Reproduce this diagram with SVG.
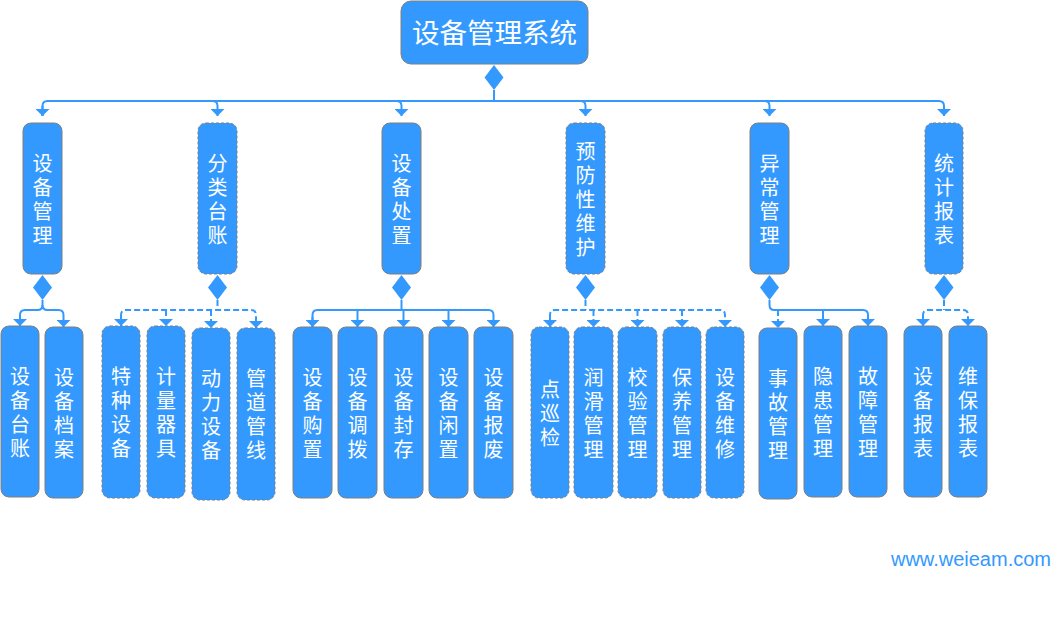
<svg xmlns="http://www.w3.org/2000/svg" width="1061" height="634" viewBox="0 0 1061 634">
<defs>
<marker id="arr" viewBox="0 0 7 14" markerWidth="7" markerHeight="14" refX="7" refY="7" orient="auto" markerUnits="userSpaceOnUse"><path d="M0,0 L7,7 L0,14 z" fill="#3399ff"/></marker>
</defs>
<style>
.n{fill:#3399ff;stroke:#7f7f7f;stroke-width:1}
.d{stroke-dasharray:3,2}
.t{fill:#fff;font-family:"Noto Sans CJK SC","Noto Sans",sans-serif;font-size:20px;text-anchor:middle;writing-mode:vertical-rl;letter-spacing:4px}
.r{fill:#fff;font-family:"Noto Sans CJK SC","Noto Sans",sans-serif;font-size:27.5px;text-anchor:middle}
.c{fill:none;stroke:#3399ff;stroke-width:2}
.cd{fill:none;stroke:#3399ff;stroke-width:2;stroke-dasharray:6,3}
.dm{fill:#3399ff}
</style>
<rect width="1061" height="634" fill="#fff"/>
<g id="connectors">
<path class="dm" d="M494,65 L503.5,77.5 L494,90 L484.5,77.5 z"/>
<path class="c" d="M494,90 V101"/>
<path class="c" d="M42.5,116 V106 Q42.5,101 47.5,101 H939 Q944,101 944,106 V116" marker-end="url(#arr)"/>
<path class="c" d="M42.5,106 V116" marker-end="url(#arr)"/>
<path class="c" d="M212.5,101 Q217.5,101 217.5,106 V116" marker-end="url(#arr)"/>
<path class="c" d="M396.5,101 Q401.5,101 401.5,106 V116" marker-end="url(#arr)"/>
<path class="c" d="M580.5,101 Q585.5,101 585.5,106 V116" marker-end="url(#arr)"/>
<path class="c" d="M764.5,101 Q769.5,101 769.5,106 V116" marker-end="url(#arr)"/>
<path class="dm" d="M42.5,275 L52,287.5 L42.5,300 L33,287.5 z"/>
<path class="dm" d="M217.5,275 L227,287.5 L217.5,300 L208,287.5 z"/>
<path class="dm" d="M401.5,275 L411,287.5 L401.5,300 L392,287.5 z"/>
<path class="dm" d="M585.5,275 L595,287.5 L585.5,300 L576,287.5 z"/>
<path class="dm" d="M769.5,275 L779,287.5 L769.5,300 L760,287.5 z"/>
<path class="dm" d="M944,275 L953.5,287.5 L944,300 L934.5,287.5 z"/>
<path class="c" d="M42.5,300 V305 Q42.5,310 37.5,310 H25 Q20,310 20,315 V326" marker-end="url(#arr)"/>
<path class="c" d="M42.5,305 Q42.5,310 47.5,310 H58.5 Q63.5,310 63.5,315 V327" marker-end="url(#arr)"/>
<path class="cd" d="M217.5,300 V310"/>
<path class="cd" d="M121,326 V315 Q121,310 126,310 H251 Q256,310 256,315 V328" marker-end="url(#arr)"/>
<path class="cd" d="M166,310 V326" marker-end="url(#arr)"/>
<path class="cd" d="M211,310 V328" marker-end="url(#arr)"/>
<path class="c" d="M121,316 V326" marker-end="url(#arr)"/>
<path class="c" d="M401.5,300 V310"/>
<path class="c" d="M312.5,327 V315 Q312.5,310 317.5,310 H488.5 Q493.5,310 493.5,315 V327" marker-end="url(#arr)"/>
<path class="c" d="M312.5,317 V327" marker-end="url(#arr)"/>
<path class="c" d="M357.5,310 V327" marker-end="url(#arr)"/>
<path class="c" d="M403.5,310 V327" marker-end="url(#arr)"/>
<path class="c" d="M448.5,310 V327" marker-end="url(#arr)"/>
<path class="cd" d="M585.5,300 V310"/>
<path class="cd" d="M550,327 V315 Q550,310 555,310 H720 Q725,310 725,315 V327" marker-end="url(#arr)"/>
<path class="c" d="M550,317 V327" marker-end="url(#arr)"/>
<path class="cd" d="M593.5,310 V327" marker-end="url(#arr)"/>
<path class="cd" d="M637.5,310 V327" marker-end="url(#arr)"/>
<path class="cd" d="M682,310 V327" marker-end="url(#arr)"/>
<path class="c" d="M769.5,300 V305 Q769.5,310 774.5,310 H863 Q868,310 868,315 V326" marker-end="url(#arr)"/>
<path class="c" d="M823,310 V326" marker-end="url(#arr)"/>
<path class="cd" d="M778,310 V328" marker-end="url(#arr)"/>
<path class="cd" d="M944,300 V310"/>
<path class="cd" d="M923,326 V315 Q923,310 928,310 H963 Q968,310 968,315 V326" marker-end="url(#arr)"/>
<path class="c" d="M923,316 V326" marker-end="url(#arr)"/>
</g>
<g id="root"><rect class="n" x="401" y="1" width="187" height="63" rx="10"/><text x="494.5" y="43" class="r">设备管理系统</text></g>
<g id="n1"><rect class="n" x="23" y="123" width="39" height="151" rx="8"/><text class="t" x="42.5" y="201">设备管理</text></g>
<g id="n2"><rect class="n d" x="198" y="123" width="39" height="151" rx="8"/><text class="t" x="217.5" y="201">分类台账</text></g>
<g id="n3"><rect class="n" x="382" y="123" width="39" height="151" rx="8"/><text class="t" x="401.5" y="201">设备处置</text></g>
<g id="n4"><rect class="n d" x="566" y="123" width="39" height="151" rx="8"/><text class="t" x="585.5" y="201">预防性维护</text></g>
<g id="n5"><rect class="n" x="750" y="123" width="39" height="151" rx="8"/><text class="t" x="769.5" y="201">异常管理</text></g>
<g id="n6"><rect class="n d" x="925" y="123" width="38" height="151" rx="8"/><text class="t" x="944" y="201">统计报表</text></g>
<g id="c1"><rect class="n" x="1" y="326" width="38" height="171" rx="8"/><text class="t" x="20" y="414">设备台账</text></g>
<g id="c2"><rect class="n" x="45" y="327" width="38" height="171" rx="8"/><text class="t" x="64" y="415">设备档案</text></g>
<g id="c3"><rect class="n d" x="102" y="326" width="38" height="172" rx="8"/><text class="t" x="121" y="414">特种设备</text></g>
<g id="c4"><rect class="n d" x="147" y="326" width="38" height="172" rx="8"/><text class="t" x="166" y="414">计量器具</text></g>
<g id="c5"><rect class="n d" x="192" y="328" width="38" height="172" rx="8"/><text class="t" x="211" y="416">动力设备</text></g>
<g id="c6"><rect class="n d" x="237" y="328" width="38" height="172" rx="8"/><text class="t" x="256" y="416">管道管线</text></g>
<g id="c7"><rect class="n" x="293" y="327" width="39" height="171" rx="8"/><text class="t" x="312.5" y="415">设备购置</text></g>
<g id="c8"><rect class="n" x="338" y="327" width="39" height="171" rx="8"/><text class="t" x="357.5" y="415">设备调拨</text></g>
<g id="c9"><rect class="n" x="384" y="327" width="39" height="171" rx="8"/><text class="t" x="403.5" y="415">设备封存</text></g>
<g id="c10"><rect class="n" x="429" y="327" width="39" height="171" rx="8"/><text class="t" x="448.5" y="415">设备闲置</text></g>
<g id="c11"><rect class="n" x="474" y="327" width="39" height="171" rx="8"/><text class="t" x="493.5" y="415">设备报废</text></g>
<g id="c12"><rect class="n d" x="531" y="327" width="38" height="171" rx="8"/><text class="t" x="550" y="415">点巡检</text></g>
<g id="c13"><rect class="n d" x="574" y="327" width="39" height="171" rx="8"/><text class="t" x="593.5" y="415">润滑管理</text></g>
<g id="c14"><rect class="n d" x="618" y="327" width="39" height="171" rx="8"/><text class="t" x="637.5" y="415">校验管理</text></g>
<g id="c15"><rect class="n d" x="663" y="327" width="38" height="171" rx="8"/><text class="t" x="682" y="415">保养管理</text></g>
<g id="c16"><rect class="n d" x="706" y="327" width="38" height="171" rx="8"/><text class="t" x="725" y="415">设备维修</text></g>
<g id="c17"><rect class="n" x="759" y="328" width="38" height="171" rx="8"/><text class="t" x="778" y="416">事故管理</text></g>
<g id="c18"><rect class="n" x="804" y="326" width="38" height="171" rx="8"/><text class="t" x="823" y="414">隐患管理</text></g>
<g id="c19"><rect class="n" x="849" y="326" width="38" height="171" rx="8"/><text class="t" x="868" y="414">故障管理</text></g>
<g id="c20"><rect class="n" x="904" y="326" width="38" height="171" rx="8"/><text class="t" x="923" y="414">设备报表</text></g>
<g id="c21"><rect class="n" x="949" y="326" width="38" height="171" rx="8"/><text class="t" x="968" y="414">维保报表</text></g>
<text x="1051" y="566" style="fill:#3399ff;font-family:'Liberation Sans',Arial,sans-serif;font-size:20px;text-anchor:end">www.weieam.com</text>
</svg>
